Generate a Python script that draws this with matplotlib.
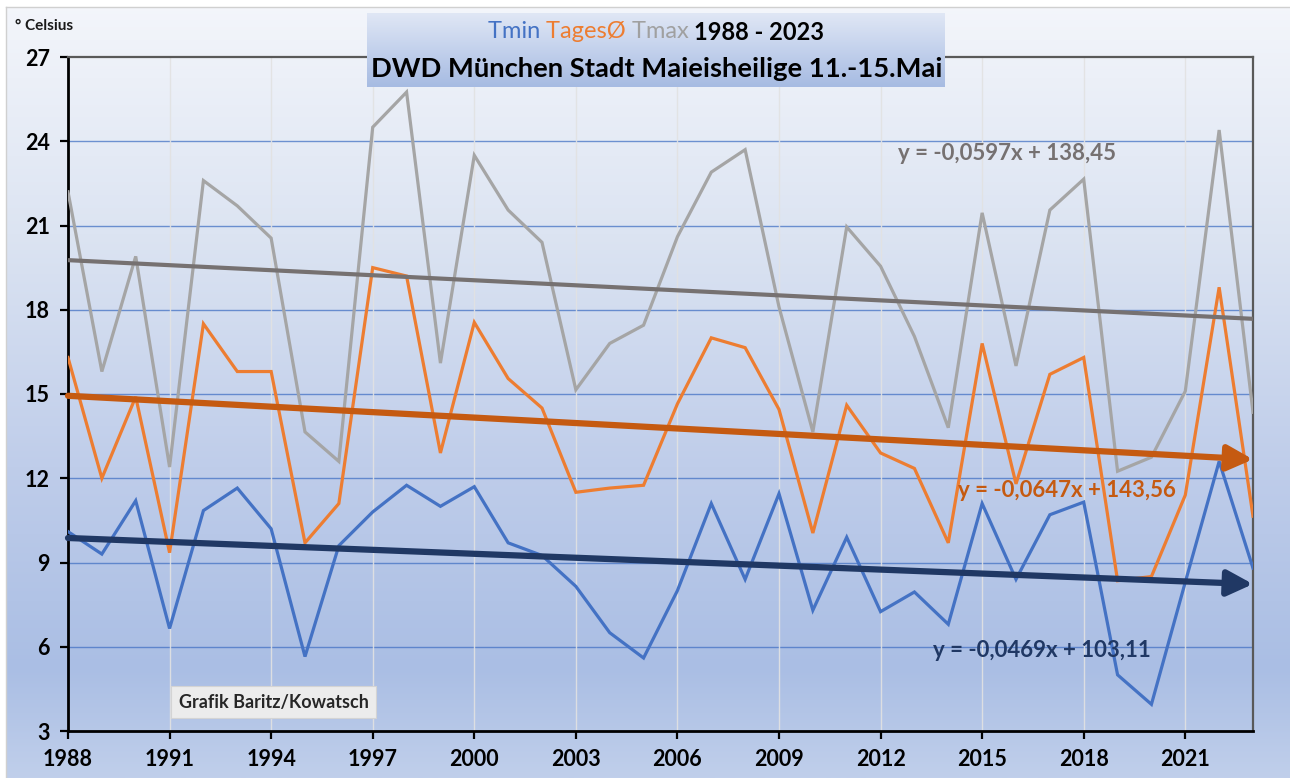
import numpy as np
import matplotlib
matplotlib.use("Agg")
import matplotlib.pyplot as plt
from matplotlib.colors import to_rgb
from matplotlib.patches import Rectangle

# ---- data -------------------------------------------------------------
years = list(range(1988, 2024))

tmin = [10.1, 9.3, 11.2, 6.65, 10.85, 11.65, 10.2, 5.65, 9.6, 10.8,
        11.75, 11.0, 11.7, 9.7, 9.25, 8.15, 6.5, 5.6, 8.0, 11.1,
        8.4, 11.45, 7.3, 9.9, 7.25, 7.95, 6.8, 11.1, 8.4, 10.7,
        11.15, 5.0, 3.95, 8.3, 12.6, 8.8]

tages = [16.3, 12.0, 14.9, 9.35, 17.5, 15.8, 15.8, 9.7, 11.1, 19.5,
         19.2, 12.9, 17.55, 15.55, 14.5, 11.5, 11.65, 11.75, 14.65, 17.0,
         16.65, 14.45, 10.05, 14.6, 12.9, 12.35, 9.7, 16.8, 11.8, 15.7,
         16.3, 8.35, 8.5, 11.4, 18.8, 10.65]

tmax = [22.2, 15.8, 19.9, 12.4, 22.6, 21.7, 20.55, 13.65, 12.6, 24.5,
        25.75, 16.1, 23.5, 21.55, 20.4, 15.15, 16.8, 17.45, 20.6, 22.9,
        23.7, 18.1, 13.65, 20.95, 19.55, 17.05, 13.8, 21.45, 16.0, 21.55,
        22.65, 12.25, 12.75, 15.1, 24.4, 14.35]

# linear trends (slope, intercept) over the calendar year
trend_tmin = (-0.0469, 103.11)
trend_tages = (-0.0647, 143.56)
trend_tmax = (-0.0597, 138.45)

x_ticks = list(range(1988, 2024, 3))
y_ticks = list(range(3, 28, 3))

# ---- styling ------------------------------------------------------------
C_TMIN = "#4472c4"
C_TAGES = "#ed7d31"
C_TMAX = "#a5a5a5"
C_TR_TMIN = "#203864"
C_TR_TAGES = "#c55a11"
C_TR_TMAX = "#767171"
FONT = ["Lato", "DejaVu Sans"]
plt.rcParams["font.family"] = FONT

W, H = 1290, 778
fig = plt.figure(figsize=(W / 100, H / 100), dpi=100)


def vgradient(stops, n=400):
    pos = np.array([s[0] for s in stops])
    cols = np.array([to_rgb(s[1]) for s in stops])
    t = np.linspace(0, 1, n)
    arr = np.stack([np.interp(t, pos, cols[:, k]) for k in range(3)], axis=-1)
    return arr[:, None, :]


# chart background
bg = fig.add_axes([0, 0, 1, 1], zorder=-10)
bg.imshow(vgradient([(0.0, "#f4f6fb"), (0.3, "#dce4f2"), (0.6, "#bfcdea"),
                     (0.86, "#aabee4"), (1.0, "#c0cfeb")]),
          aspect="auto", extent=[0, W, 0, H], origin="upper")
bg.add_patch(Rectangle((0, H - 7), W, 7, fc="white", ec="none"))
bg.add_patch(Rectangle((0, 0), 6, H, fc="white", ec="none"))
bg.plot([6, W], [H - 7, H - 7], color="#d0d0d0", lw=1)
bg.plot([6, 6], [0, H - 7], color="#d0d0d0", lw=1)
bg.set_xlim(0, W)
bg.set_ylim(0, H)
bg.axis("off")

# plot area
L, R, T, B = 68, 1253, 57, 731
ax = fig.add_axes([L / W, 1 - B / H, (R - L) / W, (B - T) / H])
ax.patch.set_alpha(0)
ax.set_xlim(1988, 2023)
ax.set_ylim(3, 27)

for yv in y_ticks[1:-1]:
    ax.axhline(yv, color=C_TMIN, lw=1.0, alpha=0.75, zorder=1)
for xv in x_ticks[1:]:
    ax.axvline(xv, color="#e2e2e2", lw=1.0, alpha=0.9, zorder=1)

ax.plot(years, tmax, color=C_TMAX, lw=2.3, zorder=3, solid_joinstyle="miter")
ax.plot(years, tages, color=C_TAGES, lw=2.3, zorder=3, solid_joinstyle="miter")
ax.plot(years, tmin, color=C_TMIN, lw=2.3, zorder=3, solid_joinstyle="miter")

x0, x1 = years[0], years[-1]


def trend(p, x):
    return p[0] * x + p[1]


ax.plot([x0, x1], [trend(trend_tmax, x0), trend(trend_tmax, x1)],
        color=C_TR_TMAX, lw=3.0, zorder=4, solid_capstyle="butt")
for p, c in ((trend_tages, C_TR_TAGES), (trend_tmin, C_TR_TMIN)):
    ax.annotate("", xy=(x1, trend(p, x1)), xytext=(x0, trend(p, x0)),
                arrowprops=dict(arrowstyle="-|>,head_length=0.7,head_width=0.35",
                                lw=4.5, color=c, shrinkA=0, shrinkB=0,
                                mutation_scale=22),
                zorder=5, annotation_clip=False)

# equations of the trend lines
eq_kw = dict(fontsize=16, fontweight="bold", va="center", ha="left", zorder=6)
ax.text(2012.5, 23.58, "y = -0,0597x + 138,45", color=C_TR_TMAX, **eq_kw)
ax.text(2014.3, 11.58, "y = -0,0647x + 143,56", color=C_TR_TAGES, **eq_kw)
ax.text(2013.55, 5.88, "y = -0,0469x + 103,11", color=C_TR_TMIN, **eq_kw)

ax.text(1994.07, 4.03, "Grafik Baritz/Kowatsch", fontsize=13, fontweight="bold",
        color="#262626", ha="center", va="center", zorder=6,
        bbox=dict(boxstyle="square,pad=0.4", fc="#ececec", ec="#d4d4d4", lw=0.8))

# axes, ticks
ax.set_xticks(x_ticks)
ax.set_yticks(y_ticks)
ax.tick_params(axis="both", direction="out", length=6, width=1.6,
               labelsize=15.5, color="black")
ax.tick_params(axis="x", pad=7)
ax.tick_params(axis="y", pad=7)
for lab in ax.get_xticklabels() + ax.get_yticklabels():
    lab.set_fontweight("bold")
ax.spines["left"].set_color("black")
ax.spines["left"].set_linewidth(2.0)
ax.spines["bottom"].set_color("black")
ax.spines["bottom"].set_linewidth(2.0)
ax.spines["top"].set_color("#595959")
ax.spines["top"].set_linewidth(1.6)
ax.spines["right"].set_color("#595959")
ax.spines["right"].set_linewidth(1.6)

fig.text(15 / W, 1 - 26 / H, "° Celsius", fontsize=11, fontweight="bold",
         va="center", ha="left", color="#1a1a1a")

# title box
bx0, bx1, by0, by1 = 367, 945, 13, 87
tb = fig.add_axes([bx0 / W, 1 - by1 / H, (bx1 - bx0) / W, (by1 - by0) / H], zorder=8)
tb.imshow(vgradient([(0.0, "#e0e7f5"), (0.5, "#c3d1ec"), (1.0, "#a6bbe2")]),
          aspect="auto", extent=[0, 1, 0, 1], origin="upper")
tb.axis("off")

fig.text(657 / W, 1 - 69 / H, "DWD München Stadt Maieisheilige 11.-15.Mai",
         fontsize=19.7, fontweight="bold", ha="center", va="center", zorder=9)

parts = [("Tmin ", C_TMIN, "normal"), ("TagesØ ", C_TAGES, "normal"),
         ("Tmax ", "#a0a0a0", "normal"), ("1988 - 2023", "black", "bold")]
fig.canvas.draw()
rend = fig.canvas.get_renderer()
objs = []
for s, c, w in parts:
    t = fig.text(0, 1 - 32 / H, s, fontsize=17, fontweight=w, color=c,
                 ha="left", va="center", zorder=9)
    objs.append(t)
widths = [o.get_window_extent(rend).width for o in objs]
xpos = 656 - sum(widths) / 2
for o, wd in zip(objs, widths):
    o.set_x(xpos / W)
    xpos += wd

fig.savefig("out.png", dpi=100)
